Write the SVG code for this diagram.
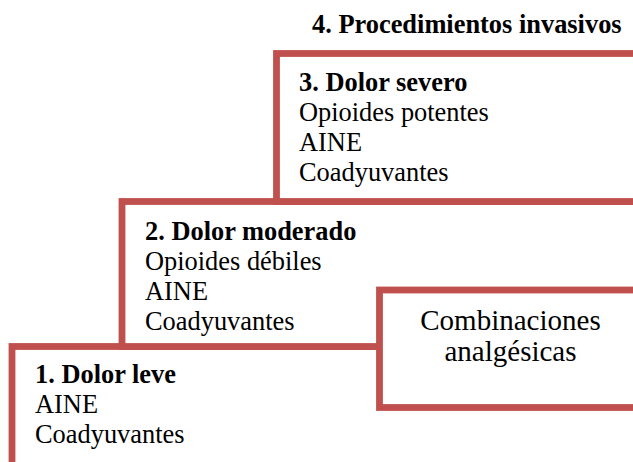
<svg xmlns="http://www.w3.org/2000/svg" width="633" height="462" viewBox="0 0 633 462">
<style>
.box{fill:#ffffff;stroke:#C0504D;stroke-width:6.8}
.t{font-family:"Liberation Serif","Times New Roman",serif;font-size:26.4px;fill:#000000}
.b{font-weight:bold}
.c{font-size:29px;text-anchor:middle}
</style>
<rect width="633" height="462" fill="#ffffff"/>
<g id="step1">
<rect class="box" x="12" y="346.5" width="700" height="200"/>
<text class="t b" x="35" y="383">1. Dolor leve</text>
<text class="t" x="35" y="413">AINE</text>
<text class="t" x="35" y="443">Coadyuvantes</text>
</g>
<g id="step2">
<rect class="box" x="122" y="201.5" width="600" height="145"/>
<text class="t b" x="145" y="240">2. Dolor moderado</text>
<text class="t" x="145" y="270">Opioides débiles</text>
<text class="t" x="145" y="300">AINE</text>
<text class="t" x="145" y="330">Coadyuvantes</text>
</g>
<g id="step3">
<rect class="box" x="276.5" y="53.5" width="500" height="148"/>
<text class="t b" x="299" y="91">3. Dolor severo</text>
<text class="t" x="299" y="121">Opioides potentes</text>
<text class="t" x="299" y="151">AINE</text>
<text class="t" x="299" y="181">Coadyuvantes</text>
</g>
<g id="step4">
<text class="t b" x="312" y="32.5">4. Procedimientos invasivos</text>
</g>
<g id="combinaciones">
<rect class="box" x="379.5" y="290" width="400" height="117.5"/>
<text class="t c" x="510.5" y="330">Combinaciones</text>
<text class="t c" x="510.5" y="361">analgésicas</text>
</g>
<g id="connectors"></g>
</svg>
